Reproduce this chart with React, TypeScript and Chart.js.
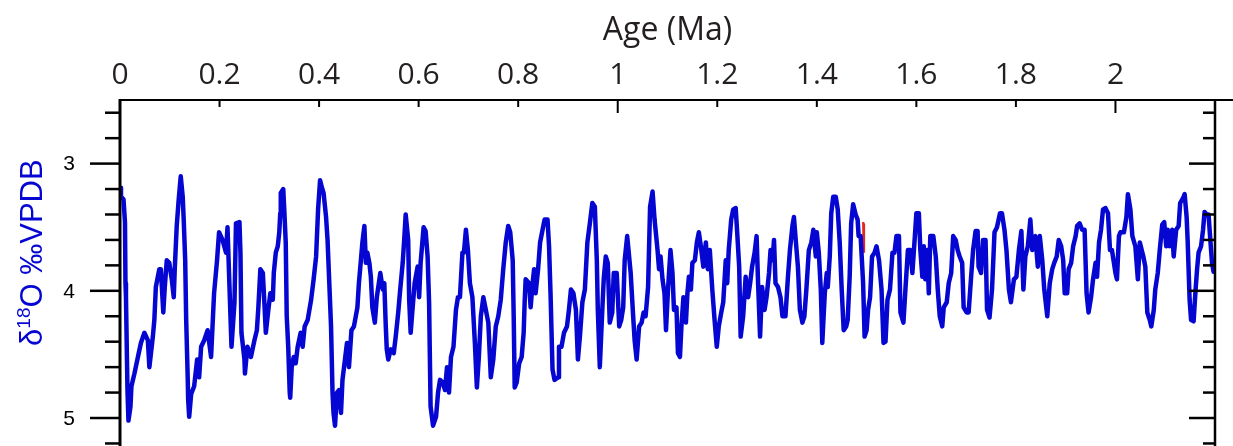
import React, { useEffect, useRef } from 'react';
import { Chart, registerables } from 'chart.js';

Chart.register(...registerables);

// Age (Ma)
const ages = [
  0.000,0.002,0.007,0.010,0.011,0.012,0.014,0.015,0.017,0.021,
  0.023,0.029,0.036,0.042,0.049,0.056,0.059,0.066,0.069,0.072,
  0.079,0.082,0.087,0.090,0.094,0.099,0.104,0.108,0.110,0.114,
  0.118,0.122,0.126,0.128,0.131,0.133,0.136,0.137,0.139,0.143,
  0.149,0.155,0.159,0.163,0.169,0.176,0.183,0.189,0.195,0.199,
  0.206,0.213,0.216,0.221,0.224,0.230,0.233,0.240,0.242,0.244,
  0.250,0.251,0.256,0.263,0.270,0.275,0.278,0.282,0.287,0.290,
  0.293,0.298,0.302,0.307,0.309,0.313,0.317,0.320,0.322,0.323,
  0.328,0.330,0.333,0.335,0.338,0.341,0.342,0.345,0.349,0.353,
  0.357,0.363,0.367,0.371,0.377,0.384,0.389,0.394,0.398,0.402,
  0.405,0.409,0.414,0.417,0.420,0.424,0.427,0.429,0.432,0.436,
  0.440,0.444,0.447,0.452,0.456,0.460,0.465,0.470,0.477,0.480,
  0.484,0.487,0.491,0.494,0.497,0.501,0.504,0.507,0.512,0.516,
  0.523,0.528,0.531,0.534,0.536,0.539,0.544,0.550,0.554,0.559,
  0.563,0.568,0.571,0.574,0.579,0.581,0.584,0.588,0.592,0.598,
  0.601,0.604,0.610,0.614,0.618,0.621,0.624,0.629,0.635,0.639,
  0.643,0.648,0.653,0.657,0.661,0.665,0.670,0.675,0.679,0.683,
  0.688,0.691,0.695,0.699,0.703,0.708,0.713,0.717,0.721,0.725,
  0.730,0.735,0.740,0.745,0.750,0.755,0.760,0.765,0.770,0.775,
  0.780,0.784,0.789,0.791,0.793,0.797,0.802,0.807,0.811,0.813,
  0.815,0.822,0.825,0.829,0.832,0.835,0.840,0.844,0.849,0.853,
  0.859,0.862,0.865,0.869,0.873,0.880,0.882,0.887,0.892,0.898,
  0.902,0.906,0.911,0.916,0.920,0.924,0.929,0.934,0.939,0.944,
  0.949,0.954,0.958,0.960,0.964,0.969,0.972,0.976,0.980,0.984,
  0.989,0.992,0.998,1.003,1.007,1.011,1.014,1.019,1.026,1.031,
  1.034,1.038,1.043,1.048,1.052,1.056,1.061,1.065,1.070,1.074,
  1.080,1.083,1.086,1.090,1.094,1.097,1.101,1.106,1.110,1.113,
  1.118,1.121,1.125,1.128,1.132,1.137,1.140,1.143,1.147,1.150,
  1.155,1.159,1.163,1.167,1.172,1.177,1.181,1.185,1.190,1.195,
  1.199,1.203,1.208,1.212,1.217,1.220,1.223,1.228,1.232,1.237,
  1.240,1.244,1.247,1.252,1.257,1.262,1.266,1.270,1.275,1.279,
  1.282,1.286,1.290,1.295,1.299,1.304,1.307,1.311,1.314,1.317,
  1.322,1.327,1.331,1.337,1.342,1.346,1.351,1.354,1.357,1.362,
  1.366,1.371,1.375,1.379,1.384,1.389,1.393,1.398,1.400,1.404,
  1.408,1.411,1.416,1.420,1.422,1.426,1.429,1.433,1.438,1.442,
  1.446,1.450,1.454,1.459,1.462,1.466,1.469,1.473,1.478,1.482,
  1.484,1.488,1.493,1.496,1.500,1.503,1.507,1.511,1.516,1.520,
  1.525,1.530,1.534,1.538,1.542,1.547,1.552,1.556,1.560,1.565,
  1.568,1.574,1.578,1.583,1.588,1.592,1.597,1.600,1.605,1.608,
  1.612,1.615,1.618,1.622,1.625,1.628,1.634,1.639,1.643,1.647,
  1.652,1.655,1.661,1.665,1.670,1.674,1.679,1.683,1.687,1.692,
  1.695,1.701,1.705,1.710,1.714,1.719,1.723,1.725,1.730,1.734,
  1.739,1.742,1.747,1.752,1.757,1.762,1.768,1.772,1.777,1.781,
  1.786,1.790,1.796,1.801,1.806,1.811,1.815,1.819,1.824,1.829,
  1.833,1.836,1.839,1.844,1.848,1.853,1.857,1.863,1.868,1.873,
  1.877,1.882,1.886,1.891,1.895,1.898,1.903,1.906,1.911,1.915,
  1.920,1.923,1.928,1.933,1.938,1.942,1.946,1.951,1.955,1.960,
  1.963,1.967,1.971,1.975,1.980,1.985,1.989,1.993,2.000,2.003,
  2.007,2.010,2.017,2.022,2.025,2.030,2.034,2.040,2.045,2.049,
  2.056,2.060,2.064,2.069,2.072,2.077,2.080,2.085,2.089,2.094,
  2.098,2.102,2.105,2.109,2.114,2.117,2.122,2.127,2.130,2.136,
  2.139,2.143,2.145,2.149,2.152,2.157,2.161,2.164,2.167,2.172,
  2.176,2.179,2.183,2.187,2.191,2.194,2.197,2.204,2.207,
];

// δ18O (‰ VPDB)
const d18O = [
  3.19,3.26,3.28,3.46,3.94,4.05,4.54,4.78,5.02,4.91,
  4.75,4.65,4.52,4.41,4.33,4.39,4.60,4.36,4.23,3.97,
  3.83,3.83,4.17,3.97,3.76,3.78,3.91,4.05,3.83,3.49,
  3.28,3.10,3.26,3.44,3.76,4.23,4.68,4.86,4.99,4.81,
  4.75,4.54,4.68,4.44,4.39,4.31,4.52,4.02,3.76,3.54,
  3.60,3.70,3.50,4.09,4.44,4.09,3.47,3.46,3.70,4.33,
  4.54,4.65,4.44,4.52,4.39,4.31,4.13,3.83,3.86,4.09,
  4.33,4.15,4.02,4.07,3.86,3.70,3.65,3.54,3.39,3.23,
  3.20,3.36,3.62,4.20,4.44,4.80,4.84,4.60,4.52,4.57,
  4.44,4.33,4.44,4.28,4.23,4.07,3.91,3.73,3.36,3.13,
  3.18,3.23,3.42,3.60,3.89,4.28,4.80,4.96,5.06,4.80,
  4.78,4.96,4.70,4.54,4.41,4.60,4.31,4.28,4.13,3.94,
  3.76,3.62,3.49,3.78,3.70,3.78,3.89,4.13,4.25,4.05,
  3.86,3.99,3.94,4.28,4.46,4.54,4.46,4.49,4.36,4.17,
  3.99,3.78,3.60,3.40,3.60,4.07,4.33,4.13,3.94,3.81,
  4.05,3.78,3.50,3.53,3.73,4.09,4.91,5.06,4.99,4.80,
  4.70,4.72,4.78,4.60,4.80,4.52,4.44,4.15,4.05,4.05,
  3.70,3.70,3.52,3.68,3.94,4.05,4.41,4.76,4.52,4.20,
  4.05,4.15,4.25,4.68,4.54,4.28,4.20,4.07,3.83,3.62,
  3.49,3.54,3.76,4.20,4.76,4.72,4.57,4.52,4.33,4.09,
  3.91,3.94,4.13,3.94,3.83,4.02,3.83,3.62,3.52,3.44,
  3.44,3.65,4.02,4.62,4.70,4.68,4.44,4.44,4.33,4.28,
  4.15,3.99,4.02,4.15,4.54,4.36,4.09,3.99,3.62,3.47,
  3.31,3.34,3.76,4.15,4.60,4.15,3.90,3.73,3.78,4.25,
  4.17,3.86,3.86,4.28,4.23,4.13,3.76,3.57,3.86,4.20,
  4.39,4.54,4.28,4.25,4.17,4.20,3.97,3.34,3.22,3.44,
  3.68,3.83,3.73,3.91,4.02,4.31,3.99,3.68,3.86,4.15,
  4.13,4.49,4.52,4.28,4.05,4.25,4.02,3.89,3.99,3.78,
  3.76,3.62,3.54,3.65,3.81,3.62,3.83,3.68,3.99,4.25,
  4.44,4.28,4.17,4.09,3.76,3.94,3.68,3.44,3.36,3.35,
  3.54,3.81,4.36,4.20,3.89,4.05,3.94,3.81,3.70,3.57,
  3.94,4.36,3.97,4.15,4.05,3.86,3.68,3.76,3.60,3.94,
  3.97,4.05,4.20,4.20,3.89,3.68,3.49,3.42,3.57,3.81,
  4.15,4.25,4.20,3.99,3.68,3.62,3.52,3.73,3.54,3.70,
  3.99,4.41,4.02,3.86,3.97,3.73,3.39,3.26,3.26,3.36,
  3.62,3.99,4.31,4.28,4.23,3.89,3.47,3.32,3.40,3.44,
  3.57,3.57,3.94,4.36,4.31,4.15,4.05,3.73,3.70,3.65,
  3.76,3.99,4.41,4.40,4.07,3.99,3.70,3.70,3.57,3.57,
  4.17,4.25,3.99,3.68,3.68,3.86,3.57,3.39,3.39,3.68,
  3.89,3.65,3.91,3.68,4.02,3.57,3.57,3.73,3.99,4.20,
  4.28,4.13,4.09,3.94,3.86,3.57,3.60,3.68,3.73,3.78,
  4.13,4.17,4.17,3.89,3.68,3.53,3.53,3.81,3.86,3.60,
  3.60,4.15,4.21,3.99,3.54,3.50,3.39,3.39,3.52,3.68,
  3.99,4.09,3.91,3.89,3.68,3.53,3.99,3.73,3.65,3.44,
  3.68,3.58,3.57,3.81,3.57,3.76,3.99,4.20,3.94,3.83,
  3.78,3.73,3.60,3.65,3.76,4.02,4.02,3.83,3.78,3.65,
  3.57,3.49,3.47,3.52,3.52,4.02,4.17,4.05,3.91,3.78,
  3.89,3.62,3.52,3.36,3.35,3.39,3.68,3.68,3.86,3.91,
  3.57,3.54,3.54,3.42,3.24,3.36,3.57,3.65,3.91,3.62,
  3.73,3.81,4.17,4.23,4.28,4.15,3.99,3.86,3.68,3.48,
  3.46,3.65,3.52,3.65,3.52,3.73,3.52,3.49,3.31,3.27,
  3.24,3.42,3.60,4.07,4.23,4.24,3.99,3.83,3.70,3.65,
  3.52,3.38,3.40,3.40,3.62,3.78,3.85,3.78,3.76,
];

// Small red record visible near 1.49 Ma
const redAges = [1.4925, 1.4935, 1.4945];
const redValues = [3.46, 3.47, 3.70];

const xTickValues = [0, 0.2, 0.4, 0.6, 0.8, 1, 1.2, 1.4, 1.6, 1.8, 2];
const xTickLabels = ['0', '0.2', '0.4', '0.6', '0.8', '1', '1.2', '1.4', '1.6', '1.8', '2'];
const yTickValues = [2.6, 2.8, 3, 3.2, 3.4, 3.6, 3.8, 4, 4.2, 4.4, 4.6, 4.8, 5, 5.2];
const yTickLabels = ['', '', '3', '', '', '', '', '4', '', '', '', '', '5', ''];

const X_TITLE = 'Age (Ma)';
const Y_TITLE_PARTS = ['δ', '18', 'O ‰VPDB'];

const BLUE = '#0606d2';
const INK = '#231f20';

const framePlugin = {
  id: 'frame',
  afterDraw(chart: any) {
    const { ctx, chartArea, scales } = chart;
    const { left, right, top, bottom } = chartArea;
    const x = scales.x;
    const y = scales.y;
    const seg = (x1: number, y1: number, x2: number, y2: number) => {
      ctx.beginPath();
      ctx.moveTo(x1, y1);
      ctx.lineTo(x2, y2);
      ctx.stroke();
    };
    ctx.save();
    ctx.strokeStyle = '#000';
    ctx.lineCap = 'butt';
    // top axis line (runs to the edge of the canvas)
    ctx.lineWidth = 2;
    seg(left, top, chart.width, top);
    // left axis
    ctx.lineWidth = 3;
    seg(left, top - 1, left, bottom);
    // right axis
    ctx.lineWidth = 2.5;
    seg(right, top, right, bottom);
    // y ticks: outside on the left, inside on the right; labels on the left
    ctx.lineWidth = 2.5;
    ctx.fillStyle = '#000';
    ctx.font = '21px "Liberation Sans", Arial, sans-serif';
    ctx.textAlign = 'right';
    ctx.textBaseline = 'middle';
    yTickValues.forEach((v, i) => {
      const py = y.getPixelForValue(v);
      const major = yTickLabels[i] !== '';
      seg(left - (major ? 30 : 15), py, left, py);
      seg(right - (major ? 26 : 12), py, right, py);
      if (major) ctx.fillText(yTickLabels[i], left - 45, py + 1);
    });
    // x ticks: inside from the top
    ctx.lineWidth = 2;
    xTickValues.forEach((v) => {
      if (v === 0) return;
      const px = x.getPixelForValue(v);
      const len = Number.isInteger(v) ? 13 : 7;
      seg(px, top, px, top + len);
    });
    // y title with superscript
    const big = '31px "Liberation Sans", Arial, sans-serif';
    const small = '19px "Liberation Sans", Arial, sans-serif';
    ctx.font = big;
    const w1 = ctx.measureText(Y_TITLE_PARTS[0]).width;
    const w3 = ctx.measureText(Y_TITLE_PARTS[2]).width;
    ctx.font = small;
    const w2 = ctx.measureText(Y_TITLE_PARTS[1]).width;
    const total = w1 + w2 + w3;
    const cx = left - 89;
    const cy = y.getPixelForValue(3.7);
    ctx.translate(cx, cy);
    ctx.rotate(-Math.PI / 2);
    ctx.fillStyle = BLUE;
    ctx.textBaseline = 'alphabetic';
    ctx.textAlign = 'left';
    const base = 11;
    let sx = -total / 2;
    ctx.font = big;
    ctx.fillText(Y_TITLE_PARTS[0], sx, base);
    sx += w1;
    ctx.font = small;
    ctx.fillText(Y_TITLE_PARTS[1], sx, base - 12);
    sx += w2;
    ctx.font = big;
    ctx.fillText(Y_TITLE_PARTS[2], sx, base);
    ctx.restore();
  },
};

export default function App() {
  const ref = useRef<HTMLCanvasElement>(null);
  useEffect(() => {
    document.body.style.margin = '0';
    const canvas = ref.current;
    if (!canvas) return;
    const mainData = ages.map((a, i) => ({ x: a, y: d18O[i] }));
    const redData = redAges.map((a, i) => ({ x: a, y: redValues[i] }));
    const chart = new Chart(canvas, {
      type: 'line',
      data: {
        datasets: [
          {
            data: mainData,
            borderColor: BLUE,
            borderWidth: 4.5,
            pointRadius: 0,
            tension: 0,
            borderJoinStyle: 'round',
            borderCapStyle: 'round',
            order: 1,
          },
          {
            data: redData,
            borderColor: '#e8231c',
            borderWidth: 2.5,
            pointRadius: 0,
            tension: 0,
            order: 2,
          },
        ],
      },
      options: {
        animation: false,
        responsive: false,
        devicePixelRatio: 1,
        layout: { padding: { left: 0, right: 18, top: 0, bottom: 0 } },
        plugins: {
          legend: { display: false },
          tooltip: { enabled: false },
          title: { display: false },
        },
        scales: {
          x: {
            type: 'linear',
            position: 'top',
            min: 0,
            max: 2.2,
            grid: { display: false, drawTicks: false },
            border: { display: false },
            afterFit: (s: any) => { s.height = 100; },
            afterBuildTicks: (s: any) => { s.ticks = xTickValues.map((v) => ({ value: v })); },
            ticks: {
              autoSkip: false,
              maxRotation: 0,
              padding: 7,
              color: INK,
              font: { family: '"Open Sans", sans-serif', size: 30 },
              callback: (_v: any, i: number) => xTickLabels[i],
            },
            title: {
              display: true,
              text: X_TITLE,
              color: INK,
              font: { family: '"Open Sans", sans-serif', size: 32 },
              padding: { top: 12, bottom: 0 },
            },
          },
          y: {
            type: 'linear',
            position: 'left',
            reverse: true,
            min: 2.5,
            max: 5.22,
            grid: { display: false, drawTicks: false },
            border: { display: false },
            afterFit: (s: any) => { s.width = 120; },
            afterBuildTicks: (s: any) => { s.ticks = yTickValues.map((v) => ({ value: v })); },
            ticks: { display: false },
          },
        },
      },
      plugins: [framePlugin],
    } as any);
    return () => chart.destroy();
  }, []);
  return (
    <div style={{ width: 1233, height: 446 }}>
      <canvas ref={ref} width={1233} height={446} style={{ display: 'block' }} />
    </div>
  );
}
